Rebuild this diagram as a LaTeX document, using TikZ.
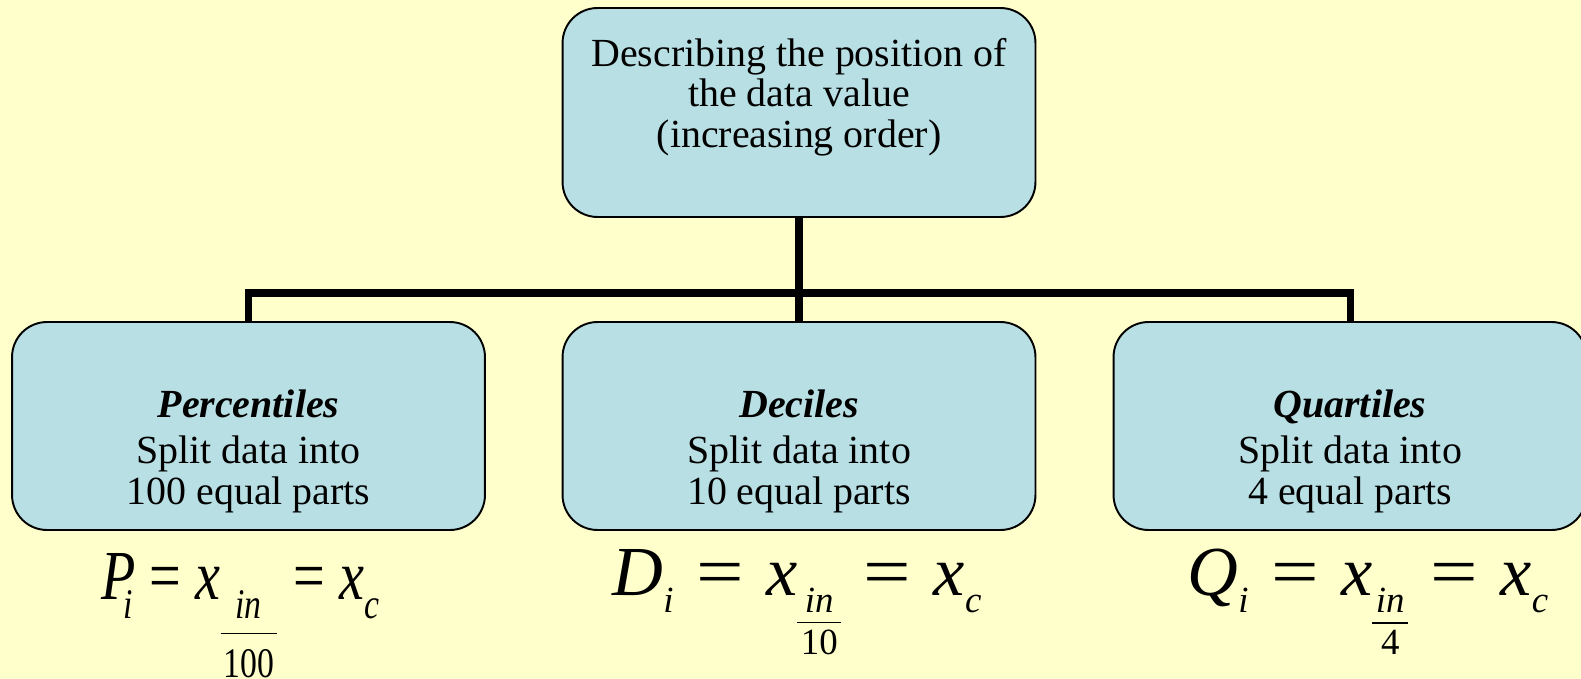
\documentclass[tikz,border=0pt]{standalone}
\usepackage{fontspec}
\setmainfont{Liberation Serif}
\usetikzlibrary{positioning}
\definecolor{slidebg}{RGB}{255,255,204}
\definecolor{boxfill}{RGB}{184,223,227}
\tikzset{every picture/.style={line width=1.1pt}}
% subscript letter / fraction subscript in/N
\newcommand{\psub}[3]{\raisebox{-#1}{\fontsize{#2}{#2}\selectfont\itshape #3}}
\newcommand{\fsub}[5]{\raisebox{-#1}{\fontsize{#2}{#2}\selectfont\vtop{\halign{\hfil\kern2pt##\kern2pt\hfil\cr\itshape in\cr\noalign{\kern#3\hrule height 0.9pt\kern#4}#5\cr}}}}
\newcommand{\eqsp}[1]{\hspace{#1}\scalebox{1.2}[1]{=}\hspace{#1}}

\begin{document}
\begin{tikzpicture}[x=0.02cm,y=-0.02cm,
    catbox/.style={draw, fill=boxfill, rounded corners=0.7cm, minimum width=9.46cm,
      minimum height=4.16cm, align=center, inner sep=0pt, font=\fontsize{22.7}{23.3}\selectfont},
    link/.style={line width=4pt},
    formula/.style={anchor=base, inner sep=0pt, font=\fontsize{40}{44}\selectfont}]
    \useasboundingbox (0,0) rectangle (1581,679);
    \clip (0,0) rectangle (1581,679);
    \fill[slidebg] (0,0) rectangle (1581,679);

    \node[catbox, minimum height=4.18cm] (top) at (799,112.5)
      {Describing the position of\\ the data value\\ (increasing order)\\[-8pt] \strut};
    \node[catbox] (pct) at (248.5,426)
      {\strut\\[5pt] \textbf{\textit{Percentiles}}\\[3pt] Split data into\\ 100 equal parts};
    \node[catbox] (dec) at (799,426)
      {\strut\\[5pt] \textbf{\textit{Deciles}}\\[3pt] Split data into\\ 10 equal parts};
    \node[catbox] (qrt) at (1350,426)
      {\strut\\[5pt] \textbf{\textit{Quartiles}}\\[3pt] Split data into\\ 4 equal parts};

    \coordinate (bar) at (799,293);
    \draw[link] (top.south) -- (dec.north);
    \draw[link] (pct.north) |- (bar) -| (qrt.north);

    \node[formula] (pform) at (240.5,599)
      {\scalebox{0.8}[1]{{\itshape P}\kern-0.22em\psub{11pt}{24}{i}\hspace{0.3em}=\hspace{0.25em}{\itshape x}\fsub{11pt}{24}{8.2pt}{8.5pt}{100}\hspace{0.3em}=\hspace{0.25em}{\itshape x}\psub{11pt}{24}{c}}};
    \node[formula] (dform) at (797,595)
      {{\itshape D}\psub{9.7pt}{21}{i}\eqsp{0.32em}{\itshape x}\fsub{9.7pt}{21}{5.4pt}{4pt}{10}\eqsp{0.32em}{\itshape x}\psub{9.7pt}{21}{c}};
    \node[formula] (qform) at (1368,595)
      {{\itshape Q}\psub{9.7pt}{21}{i}\eqsp{0.32em}{\itshape x}\fsub{9.7pt}{21}{5.8pt}{3.4pt}{4}\eqsp{0.32em}{\itshape x}\psub{9.7pt}{21}{c}};
\end{tikzpicture}
\end{document}
